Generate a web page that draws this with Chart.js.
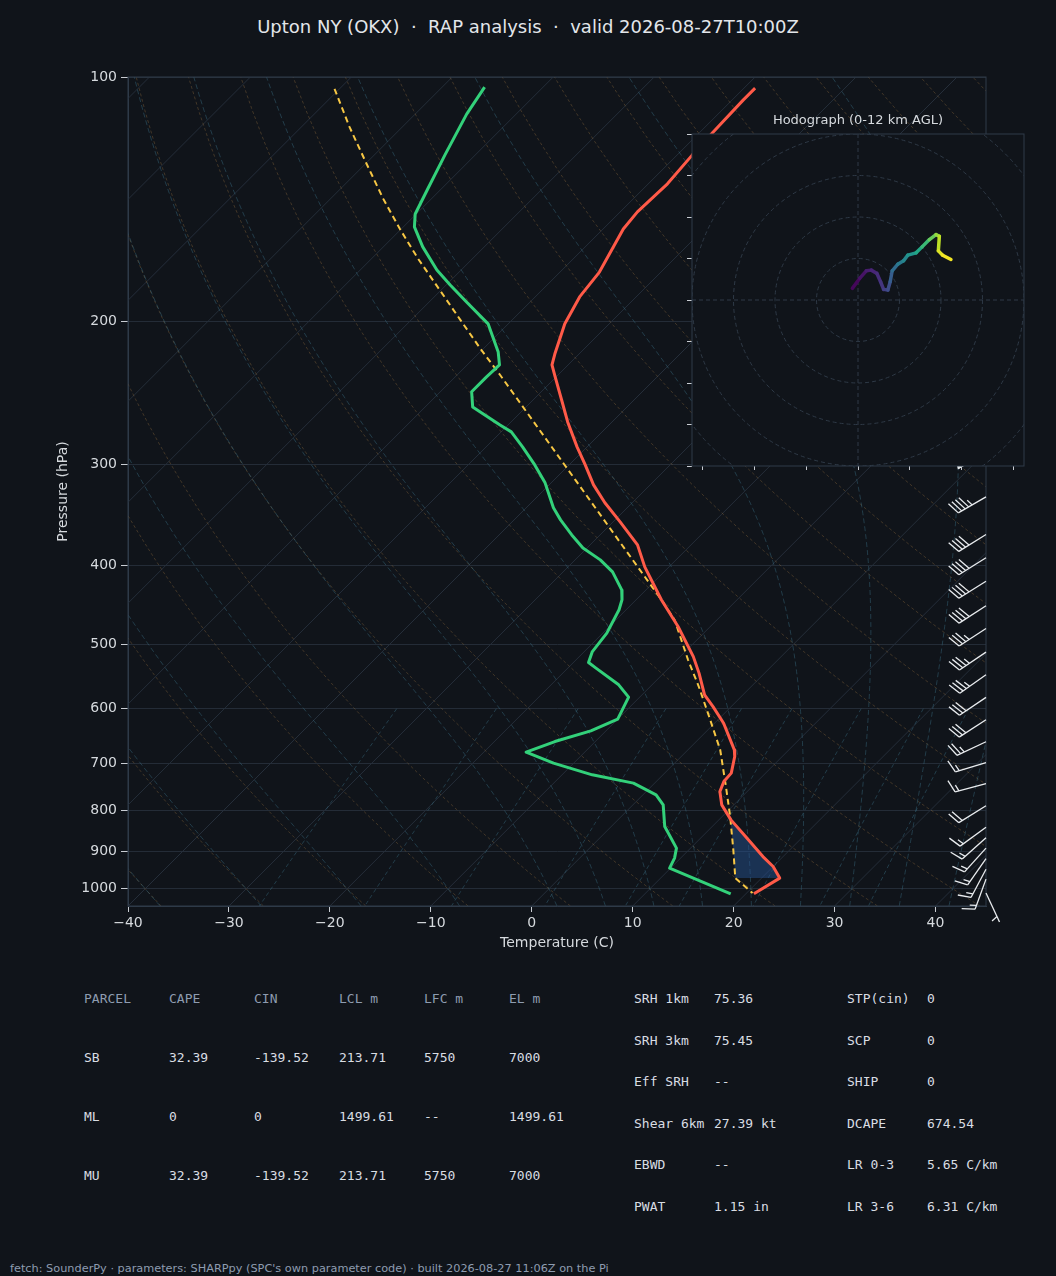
<!DOCTYPE html>
<html><head><meta charset="utf-8">
<script src="https://cdn.jsdelivr.net/npm/chart.js@4.4.1/dist/chart.umd.min.js"></script>
<style>
html,body{margin:0;padding:0;background:#10141a;}
body{width:1056px;height:1276px;position:relative;overflow:hidden;font-family:"DejaVu Sans",sans-serif;}
#main{position:absolute;left:0;top:0;width:1056px;height:960px;}
#hodo{position:absolute;left:660px;top:100px;width:380px;height:390px;}
#htitle{position:absolute;left:758px;width:200px;top:112px;text-align:center;font-size:13px;line-height:16px;color:#d6dade;white-space:pre;}
.t{position:absolute;white-space:pre;font-family:"DejaVu Sans Mono",monospace;font-size:13px;line-height:16px;color:#d9dde3;}
.h{color:#8e9cb0;}
#title{position:absolute;left:0;width:1056px;top:16px;text-align:center;font-size:18px;line-height:22px;color:#e3e6ea;white-space:pre;}
#foot{position:absolute;left:10px;top:1262px;font-size:11.3px;line-height:14px;color:#8e9cb0;white-space:pre;}
</style></head>
<body>
<div id="title">Upton NY (OKX)  ·  RAP analysis  ·  valid 2026-08-27T10:00Z</div>
<div id="main"><canvas id="skew"></canvas></div>
<div id="hodo"><canvas id="hodoc"></canvas></div>
<div id="htitle">Hodograph (0-12 km AGL)</div>
<div id="table"></div>
<div id="foot">fetch: SounderPy · parameters: SHARPpy (SPC's own parameter code) · built 2026-08-27 11:06Z on the Pi</div>
<script>
// ---------------- data ----------------
const pTicks = [100,200,300,400,500,600,700,800,900,1000];
const tTicks = [-40,-30,-20,-10,0,10,20,30,40];

const tempP = [103.2,106.7,117.2,124.8,135.4,146.6,153.9,173.9,186.6,201.4,219.4,226.3,234.1,249.8,266.0,285.5,300.5,318.0,334.6,353.2,377.0,401.3,440.5,475.2,517.6,542.4,576.9,596.4,625.2,674.3,687.2,720.3,737.7,759.0,788.1,822.4,862.3,912.6,938.8,970.1,1014.3];
const tempT = [-58.9,-58.9,-58.7,-58.5,-58.1,-58.3,-58.0,-56.1,-55.6,-54.4,-52.4,-51.6,-50.1,-47.2,-44.4,-41.0,-38.4,-35.6,-32.7,-29.3,-25.3,-22.4,-17.5,-13.2,-8.7,-6.5,-3.8,-1.8,0.9,4.6,5.3,6.6,6.7,7.3,8.8,11.2,14.3,18.0,20.0,21.8,20.8];

const dewP = [102.9,111.1,124.8,137.7,147.5,153.0,161.9,172.9,180.4,189.3,201.4,218.2,226.3,234.1,244.2,254.9,268.3,273.6,285.5,300.5,316.2,339.4,351.2,366.5,380.3,393.4,407.0,428.4,440.5,453.2,484.2,510.3,526.3,534.8,560.7,580.6,618.0,638.9,658.6,678.7,700.2,723.8,741.0,766.0,788.1,838.1,891.0,916.6,943.0,1014.3];
const dewT = [-85.8,-84.9,-83.0,-81.3,-80.1,-78.9,-76.1,-72.4,-69.6,-66.3,-62.0,-58.2,-56.8,-56.9,-56.9,-55.3,-50.8,-49.0,-46.4,-43.4,-40.6,-37.3,-35.4,-32.8,-30.4,-27.5,-25.1,-22.4,-21.4,-20.7,-19.6,-19.2,-18.5,-17.2,-13.3,-11.1,-10.0,-11.5,-14.0,-15.8,-12.0,-7.0,-2.1,1.3,3.0,5.3,8.6,9.4,9.9,18.5];

const parcelP = [103.4,115.3,127.9,141.2,153.7,167.4,183.1,199.3,217.2,233.0,272.1,313.5,371.7,440.5,466.3,522.4,563.4,613.5,674.3,748.2,814.8,895.3,970.1,1012.3];
const parcelT = [-100.5,-95.2,-89.9,-84.8,-80.2,-75.4,-70.1,-65.1,-60.0,-55.7,-46.4,-37.9,-27.7,-17.5,-14.2,-8.9,-5.2,-1.2,3.2,7.4,10.8,14.4,17.4,20.6];

const cinTopP = 818;
const cinBotP = 970;

const windP   = [290,329,366,391,418,448,478,511,545,581,619,659,699,742,790,840,865,891,918,946,973,1012];
const windSpd = [50,45,40,40,40,40,35,35,35,30,30,25,15,15,20,15,15,15,15,15,15,5];
const windDir = [240,240,238,238,238,237,237,236,235,236,237,245,253,255,238,234,228,222,215,208,200,155];

const hodoU = [-1.36,0.4,2.0,3.2,4.56,5.44,6.16,7.2,7.76,8.24,9.6,10.96,12.0,14.0,15.44,17.2,18.8,19.6,19.36,20.4,22.4];
const hodoV = [2.8,5.2,7.04,7.2,6.4,4.4,2.56,2.4,4.4,7.04,8.64,9.44,10.8,11.36,12.8,14.56,15.76,15.36,11.84,10.8,9.76];
const hodoH = [0,0.4,0.8,1.1,1.4,1.7,2.0,2.4,3.2,3.8,4.6,5.2,5.8,6.6,7.6,8.6,9.8,10.4,11.2,11.6,12.0];
const hodoXTicks = [-37.5,-25,-12.5,0,12.5,25,37.5];
const hodoYTicks = [-40,-30,-20,-10,0,10,20,30,40];
const hodoRings = [10,20,30,40,50];

const tableHead = ['PARCEL','CAPE','CIN','LCL m','LFC m','EL m'];
const tableRows = [
  ['SB','32.39','-139.52','213.71','5750','7000'],
  ['ML','0','0','1499.61','--','1499.61'],
  ['MU','32.39','-139.52','213.71','5750','7000']
];
const paramsA = [['SRH 1km','75.36'],['SRH 3km','75.45'],['Eff SRH','--'],['Shear 6km','27.39 kt'],['EBWD','--'],['PWAT','1.15 in']];
const paramsB = [['STP(cin)','0'],['SCP','0'],['SHIP','0'],['DCAPE','674.54'],['LR 0-3','5.65 C/km'],['LR 3-6','6.31 C/km']];

// ---------------- styles ----------------
const BG = '#10141a', SPINE = '#2f3a48', TICKC = '#c9cdd3', LABC = '#d6dade';
Chart.defaults.font.family = "'DejaVu Sans', sans-serif";

// ---------------- table ----------------
(function(){
  const tb = document.getElementById('table');
  const colX = [84,169,254,339,424,509];
  const rowY = [999,1058,1117,1176];
  function put(txt,x,y,cls){const d=document.createElement('div');d.className='t'+(cls?' '+cls:'');d.style.left=x+'px';d.style.top=(y-8)+'px';d.textContent=txt;tb.appendChild(d);}
  tableHead.forEach((h,i)=>put(h,colX[i],rowY[0],'h'));
  tableRows.forEach((r,j)=>r.forEach((c,i)=>put(c,colX[i],rowY[j+1])));
  const ry=[999,1041,1082,1124,1165,1207];
  paramsA.forEach((r,j)=>{put(r[0],634,ry[j]);put(r[1],714,ry[j]);});
  paramsB.forEach((r,j)=>{put(r[0],847,ry[j]);put(r[1],927,ry[j]);});
})();

// ---------------- helpers ----------------
function skewOf(chart){
  const xs = chart.scales.x, ys = chart.scales.y;
  const ppd = (xs.right - xs.left)/(xs.max - xs.min);
  return (T,p) => T + (ys.bottom - ys.getPixelForValue(p))/ppd;
}
function interpT(P,T,p){
  for(let i=0;i<P.length-1;i++){
    const a=P[i],b=P[i+1];
    if((p-a)*(p-b)<=0){const f=(Math.log(p)-Math.log(a))/(Math.log(b)-Math.log(a));return T[i]+f*(T[i+1]-T[i]);}
  }
  return null;
}
function moistCurve(t0C){
  const Rd=287.04749,Lv=2.50084e6,Cp=1004.6662,eps=0.6219569;
  const f=(p,T)=>{const es=6.112*Math.exp(17.67*(T-273.15)/(T-29.65));const rs=eps*es/(p-es);return ((Rd*T+Lv*rs)/(Cp+(Lv*Lv*rs*eps)/(Rd*T*T)))/p;};
  const step=(p,T,h)=>{const k1=f(p,T),k2=f(p+h/2,T+h/2*k1),k3=f(p+h/2,T+h/2*k2),k4=f(p+h,T+h*k3);return T+h/6*(k1+2*k2+2*k3+k4);};
  const up=[];let T=t0C+273.15,p=1000;up.push([T,p]);
  while(p>100){T=step(p,T,-5);p-=5;up.push([T,p]);}
  const dn=[];T=t0C+273.15;p=1000;
  while(p<1050){T=step(p,T,5);p+=5;dn.unshift([T,p]);}
  return dn.concat(up).map(a=>[a[0]-273.15,a[1]]);
}
const presList=[];for(let p=1050;p>=100;p-=10)presList.push(p);

const bgPlugin = {
  id:'skewbg',
  beforeDatasetsDraw(chart){
    const {ctx,chartArea:a,scales:{x:xs,y:ys}}=chart;
    const sk=skewOf(chart);
    const P=(T,p)=>[xs.getPixelForValue(sk(T,p)),ys.getPixelForValue(p)];
    ctx.save();
    ctx.beginPath();ctx.rect(a.left,a.top,a.right-a.left,a.bottom-a.top);ctx.clip();
    function line(pts,color,lw,dash){
      ctx.beginPath();ctx.strokeStyle=color;ctx.lineWidth=lw;ctx.setLineDash(dash||[]);
      pts.forEach((q,i)=>{const [x,y]=P(q[0],q[1]);if(i)ctx.lineTo(x,y);else ctx.moveTo(x,y);});
      ctx.stroke();
    }
    for(let T=-140;T<=40;T+=10) line([[T,1050],[T,100]],'#252e3a',1);
    for(let t0=-40;t0<=245;t0+=10){
      const th=t0+273.15;
      line(presList.map(p=>[th*Math.pow(p/1000,0.28571)-273.15,p]),'rgba(140,106,62,0.45)',0.9,[3,2.5]);
    }
    const mt=[-40,-30,-20,-10,0,5,10,15,20,25,30,35,40,45];
    mt.forEach(t0=>line(moistCurve(t0),'rgba(56,104,124,0.55)',0.9,[5,3]));
    const ws=[0.0004,0.001,0.002,0.004,0.007,0.01,0.016,0.024,0.032];
    ws.forEach(w=>{
      const pts=[];for(let p=600;p<=1050;p+=10){const e=p*w/(0.6219569+w);const L=Math.log(e/6.112);pts.push([243.5*L/(17.67-L),p]);}
      line(pts,'rgba(56,104,124,0.55)',0.9,[4,3]);
    });
    // CIN shading between environment and parcel
    const poly=[[interpT(tempP,tempT,cinTopP),cinTopP]];
    tempP.forEach((p,i)=>{if(p>cinTopP&&p<cinBotP)poly.push([tempT[i],p]);});
    poly.push([interpT(tempP,tempT,cinBotP),cinBotP]);
    poly.push([interpT(parcelP,parcelT,cinBotP),cinBotP]);
    const ps=[];parcelP.forEach((p,i)=>{if(p>cinTopP&&p<cinBotP)ps.push([parcelT[i],p]);});
    ps.reverse().forEach(q=>poly.push(q));
    poly.push([interpT(parcelP,parcelT,cinTopP),cinTopP]);
    ctx.setLineDash([]);
    ctx.beginPath();
    poly.forEach((q,i)=>{const [x,y]=P(q[0],q[1]);if(i)ctx.lineTo(x,y);else ctx.moveTo(x,y);});
    ctx.closePath();ctx.fillStyle='rgba(40,86,152,0.45)';ctx.fill();
    ctx.restore();
  },
  afterDraw(chart){
    const {ctx,chartArea:a,scales:{y:ys}}=chart;
    ctx.save();
    ctx.strokeStyle=SPINE;ctx.lineWidth=1;ctx.setLineDash([]);
    ctx.strokeRect(a.left,a.top,a.right-a.left,a.bottom-a.top);
    const L=32;
    windP.forEach((p,i)=>drawBarb(ctx,a.right,ys.getPixelForValue(p),windSpd[i],windDir[i],L));
    ctx.restore();
  }
};

function drawBarb(ctx,bx,by,spd,dir,L){
  const r=dir*Math.PI/180;
  const u=-spd*Math.sin(r),v=-spd*Math.cos(r);
  let mag=Math.round(spd/5)*5;
  const nf=Math.floor(mag/50);mag-=nf*50;
  const nb=Math.floor(mag/10);mag-=nb*10;
  const half=mag>=5;
  const th=Math.atan2(v,u)+Math.PI/2,c=Math.cos(th),s=Math.sin(th);
  const tr=(x,y)=>[bx+(x*c-y*s),by-(x*s+y*c)];
  const sp=0.125*L,hg=0.4*L,wd=0.25*L;
  ctx.strokeStyle='#e9ecef';ctx.fillStyle='#e9ecef';ctx.lineWidth=1.3;ctx.lineJoin='miter';ctx.lineCap='butt';
  const seg=(a,b)=>{ctx.beginPath();ctx.moveTo(a[0],a[1]);ctx.lineTo(b[0],b[1]);ctx.stroke();};
  seg(tr(0,0),tr(0,L));
  let off=L;
  for(let k=0;k<nf;k++){
    if(off!==L)off+=sp/2;
    const A=tr(0,off),B=tr(hg,off-wd/2),C=tr(0,off-wd);
    ctx.beginPath();ctx.moveTo(A[0],A[1]);ctx.lineTo(B[0],B[1]);ctx.lineTo(C[0],C[1]);ctx.closePath();ctx.fill();ctx.stroke();
    off-=wd+sp;
  }
  for(let k=0;k<nb;k++){seg(tr(0,off),tr(hg,off+wd/2));off-=sp;}
  if(half){if(off===L)off-=1.5*sp;seg(tr(0,off),tr(hg/2,off+wd/4));}
}

function fmtT(v){return v<0?'\u2212'+Math.abs(v):String(v);}

const tickFont={family:"'DejaVu Sans', sans-serif",size:14};
const skewChart=new Chart(document.getElementById('skew'),{
  type:'scatter',
  data:{datasets:[
    {label:'Temperature',data:[],showLine:true,borderColor:'#ff5a48',borderWidth:3,pointRadius:0,borderJoinStyle:'round'},
    {label:'Dewpoint',data:[],showLine:true,borderColor:'#33d17a',borderWidth:3,pointRadius:0,borderJoinStyle:'round'},
    {label:'Parcel',data:[],showLine:true,borderColor:'#f7c744',borderWidth:2,borderDash:[6,4],pointRadius:0}
  ]},
  options:{
    responsive:true,maintainAspectRatio:false,animation:false,events:[],
    layout:{padding:{left:0,top:77,right:70,bottom:0}},
    plugins:{legend:{display:false},tooltip:{enabled:false}},
    scales:{
      x:{type:'linear',min:-40,max:45,
        afterBuildTicks:a=>{a.ticks=tTicks.map(v=>({value:v}));},
        afterFit:s=>{s.height=54;},
        ticks:{callback:v=>fmtT(v),color:LABC,font:tickFont,padding:3,maxRotation:0,autoSkip:false},
        grid:{drawOnChartArea:false,drawTicks:true,tickLength:6,tickColor:TICKC,color:TICKC},
        border:{display:true,color:SPINE,width:1},
        title:{display:true,text:'Temperature (C)',color:LABC,font:tickFont,padding:{top:0,bottom:8}}},
      y:{type:'logarithmic',reverse:true,min:100,max:1050,
        afterBuildTicks:a=>{a.ticks=pTicks.map(v=>({value:v}));},
        afterFit:s=>{s.width=128;},
        ticks:{callback:v=>String(v),color:LABC,font:tickFont,padding:4,autoSkip:false},
        grid:{color:'#242c37',lineWidth:1,drawTicks:true,tickLength:7,tickColor:TICKC},
        border:{display:true,color:SPINE,width:1},
        title:{display:true,text:'Pressure (hPa)',color:LABC,font:tickFont,padding:{top:55,bottom:0}}}
    }
  },
  plugins:[bgPlugin]
});
const sk=skewOf(skewChart);
skewChart.data.datasets[0].data=tempP.map((p,i)=>({x:sk(tempT[i],p),y:p}));
skewChart.data.datasets[1].data=dewP.map((p,i)=>({x:sk(dewT[i],p),y:p}));
skewChart.data.datasets[2].data=parcelP.map((p,i)=>({x:sk(parcelT[i],p),y:p}));
skewChart.update('none');

// ---------------- hodograph ----------------
const VIR=['#440154','#482475','#414487','#355f8d','#2a788e','#21918c','#22a884','#44bf70','#7ad151','#bddf26','#fde725'];
function hex(h){return [parseInt(h.slice(1,3),16),parseInt(h.slice(3,5),16),parseInt(h.slice(5,7),16)];}
function viridis(t){
  t=Math.max(0,Math.min(1,t));const f=t*10,i=Math.min(9,Math.floor(f)),r=f-i;
  const a=hex(VIR[i]),b=hex(VIR[i+1]);
  return 'rgb('+a.map((v,k)=>Math.round(v+(b[k]-v)*r)).join(',')+')';
}
const hodoPlugin={
  id:'hodobg',
  beforeDraw(chart){const {ctx,chartArea:a}=chart;ctx.save();ctx.fillStyle=BG;ctx.fillRect(a.left,a.top,a.right-a.left,a.bottom-a.top);ctx.restore();},
  beforeDatasetsDraw(chart){
    const {ctx,chartArea:a,scales:{x:xs,y:ys}}=chart;
    ctx.save();ctx.beginPath();ctx.rect(a.left,a.top,a.right-a.left,a.bottom-a.top);ctx.clip();
    ctx.strokeStyle='#2e3946';ctx.lineWidth=1;ctx.setLineDash([4,3]);
    const cx=xs.getPixelForValue(0),cy=ys.getPixelForValue(0);
    hodoRings.forEach(r=>{const rp=xs.getPixelForValue(r)-cx;ctx.beginPath();ctx.arc(cx,cy,rp,0,Math.PI*2);ctx.stroke();});
    ctx.beginPath();ctx.moveTo(cx,a.top);ctx.lineTo(cx,a.bottom);ctx.moveTo(a.left,cy);ctx.lineTo(a.right,cy);ctx.stroke();
    ctx.restore();
  },
  afterDraw(chart){const {ctx,chartArea:a}=chart;ctx.save();ctx.strokeStyle=SPINE;ctx.lineWidth=1;ctx.strokeRect(a.left,a.top,a.right-a.left,a.bottom-a.top);ctx.restore();}
};
new Chart(document.getElementById('hodoc'),{
  type:'scatter',
  data:{datasets:[{data:hodoU.map((u,i)=>({x:u,y:hodoV[i]})),showLine:true,borderWidth:3.5,pointRadius:0,
    borderColor:viridis(0.5),borderJoinStyle:'round',borderCapStyle:'round',
    segment:{borderColor:c=>viridis((hodoH[c.p0DataIndex]+hodoH[c.p1DataIndex])/24)}}]},
  options:{responsive:true,maintainAspectRatio:false,animation:false,events:[],
    layout:{padding:{left:22,top:34,right:16,bottom:14}},
    plugins:{legend:{display:false},tooltip:{enabled:false}},
    scales:{
      x:{type:'linear',min:-40,max:40,afterBuildTicks:a=>{a.ticks=hodoXTicks.map(v=>({value:v}));},afterFit:s=>{s.height=10;},
        ticks:{display:false},grid:{drawOnChartArea:false,drawTicks:true,tickLength:4,tickColor:TICKC,color:TICKC},border:{display:false}},
      y:{type:'linear',min:-40,max:40,afterBuildTicks:a=>{a.ticks=hodoYTicks.map(v=>({value:v}));},afterFit:s=>{s.width=10;},
        ticks:{display:false},grid:{drawOnChartArea:false,drawTicks:true,tickLength:5,tickColor:TICKC,color:TICKC},border:{display:false}}
    }
  },
  plugins:[hodoPlugin]
});
</script>
</body></html>
